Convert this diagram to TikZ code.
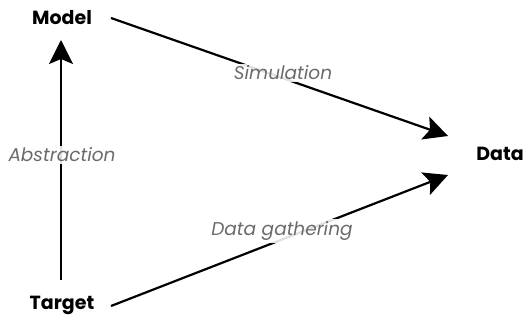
\documentclass[tikz,border=0pt]{standalone}
\usepackage{fontspec}
\setmainfont{Poppins}
\usetikzlibrary{arrows.meta}
\begin{document}
\begin{tikzpicture}[x=1pt,y=-1pt,
  term/.style={font=\bfseries\fontsize{19}{21}\selectfont, inner sep=1pt},
  lbl/.style={font=\itshape\fontsize{18.5}{21}\selectfont, text=black!58, fill=white, fill opacity=0.88, text opacity=1, inner sep=2pt},
  conn/.style={line width=2.2pt, -{Stealth[length=24pt,width=24pt,inset=5pt]}}]
\useasboundingbox (0,0) rectangle (525,320);
\node[term] (model) at (62,18) {Model};
\node[term] (target) at (62,305) {Target};
\node[term] (data) at (500,154) {Data};
\coordinate (mstart) at (111,18);
\coordinate (tstart) at (111,306);
\coordinate (tabs) at (61,280);
\coordinate (mabs) at (61,40);
\coordinate (dtop) at (448,136);
\coordinate (dbot) at (448,175);
\draw[conn] (tabs) -- (mabs);
\draw[conn] (mstart) -- (dtop);
\draw[conn] (tstart) -- (dbot);
\node[lbl] (abs) at (62,155) {Abstraction};
\node[lbl] (sim) at (283,73) {Simulation};
\node[lbl] (gat) at (282,231) {Data gathering};
\end{tikzpicture}
\end{document}
